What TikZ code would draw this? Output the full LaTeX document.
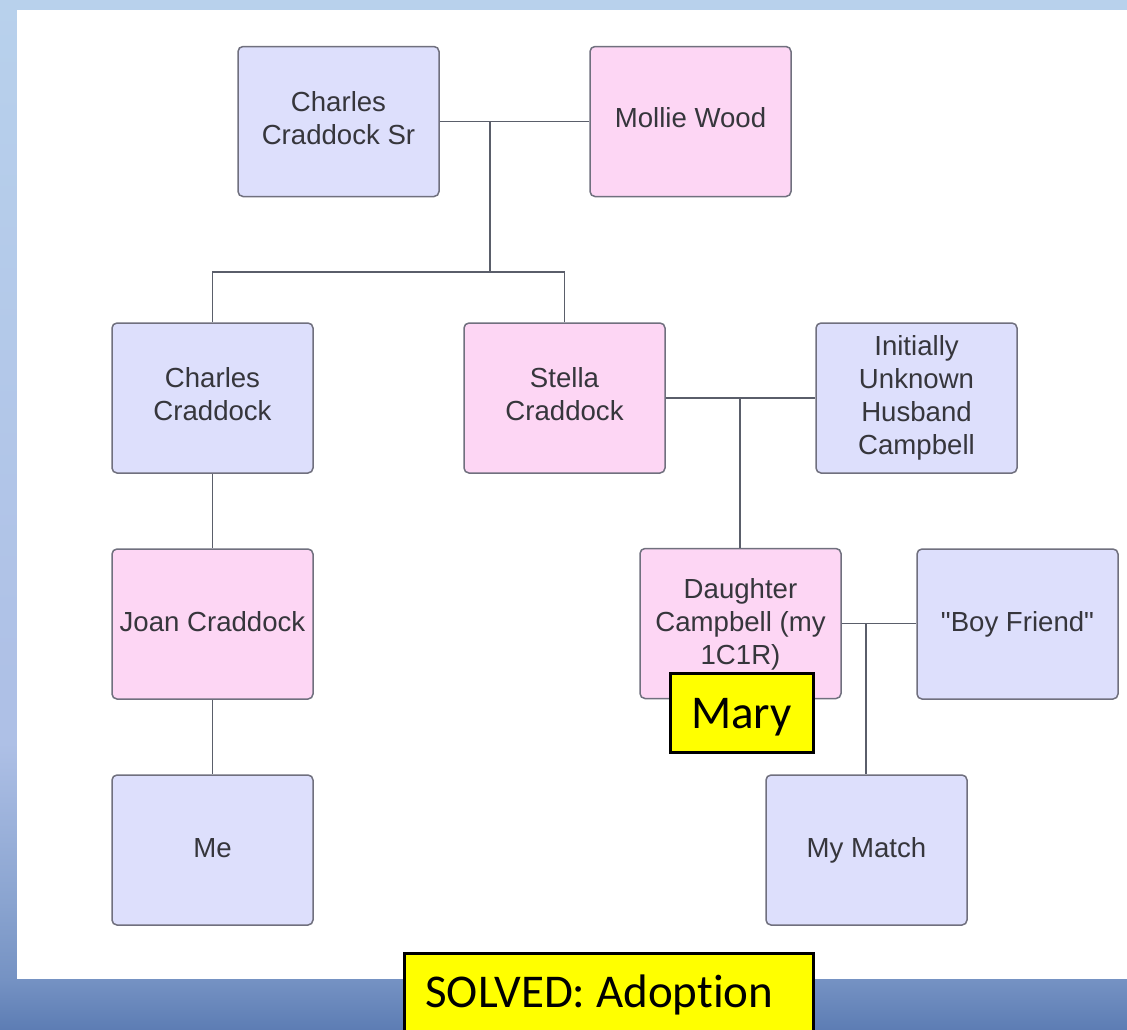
\documentclass[tikz,border=0pt]{standalone}
\usepackage{fontspec}
\setmainfont{Liberation Sans}[Ligatures=TeXOff]
\newfontfamily\calibrilike[Ligatures=NoCommon]{Carlito}
\usetikzlibrary{positioning}

\definecolor{bgtop}{HTML}{B8D1EC}
\definecolor{bgmid}{HTML}{AEC0E6}
\definecolor{bgdark}{HTML}{8AA4D0}
\definecolor{bgedge}{HTML}{7592C3}
\definecolor{bgbottom}{HTML}{5D7DB4}
\definecolor{malefill}{HTML}{DDDFFC}
\definecolor{femalefill}{HTML}{FDD6F4}
\definecolor{boxline}{HTML}{70707E}
\definecolor{linkline}{HTML}{5A5E6A}
\definecolor{labeltext}{HTML}{36363C}
\definecolor{notefill}{HTML}{FFFF00}

% slide background: pale blue fading to a deeper blue at the foot
\pgfdeclareverticalshading{slidebg}{100bp}{%
  color(0bp)=(bgbottom); color(25bp)=(bgbottom);
  color(27.4bp)=(bgedge); color(31.2bp)=(bgdark);
  color(38.9bp)=(bgmid); color(41bp)=(bgmid);
  color(75bp)=(bgtop); color(100bp)=(bgtop)}

\tikzset{
  person/.style={rectangle, rounded corners=2.5pt, draw=boxline,
    line width=0.75pt, minimum width=100.5pt, minimum height=75pt,
    inner sep=0pt, align=center, text=labeltext,
    font=\fontsize{13.8}{16.5}\selectfont},
  male/.style={person, fill=malefill},
  female/.style={person, fill=femalefill},
  link/.style={draw=linkline, line width=0.75pt},
  note/.style={rectangle, draw=black, line width=1.5pt, fill=notefill,
    inner sep=0pt},
  notetext/.style={inner sep=0pt, text=black,
    font=\calibrilike\fontsize{23.5}{28}\selectfont}
}

\begin{document}
\begin{tikzpicture}[x=0.5pt, y=-0.5pt]
  \useasboundingbox (0,0) rectangle (1127,1029);
  \shade[shading=slidebg] (0,0) rectangle (1127,1029);
  \fill[white] (17,10) rectangle (1127,979);

  % people (a short trailing line lifts the label a little)
  \node[male]   (sr)       at (338.5,121.5) {Charles\\Craddock Sr\\[-12.5pt]};
  \node[female] (mollie)   at (690.5,121.5) {Mollie Wood\\[-12.5pt]};
  \node[male]   (cc)       at (212.5,398)   {Charles\\Craddock\\[-12.5pt]};
  \node[female] (stella)   at (564.5,398)   {Stella\\Craddock\\[-12.5pt]};
  \node[male]   (husband)  at (916.5,398)   {Initially\\Unknown\\Husband\\Campbell};
  \node[female] (joan)     at (212.5,624)   {Joan Craddock\\[-13.5pt]};
  \node[female] (daughter) at (740.5,623.5) {Daughter\\Campbell (my\\1C1R)\\[-14.5pt]};
  \node[male]   (boy)      at (1017.5,624)  {"Boy Friend"};
  \node[male]   (me)       at (212.5,850)   {Me\\[-14.5pt]};
  \node[male]   (match)    at (866.5,850)   {My Match};

  % family links
  \coordinate (m1) at (490,121.5);
  \coordinate (m2) at (490,272);
  \coordinate (m3) at (740,398);
  \coordinate (m4) at (866,623.5);

  \draw[link] (sr.east) -- (mollie.west);
  \draw[link] (m1) -- (m2);
  \draw[link] (cc.north) |- (m2) -| (stella.north);
  \draw[link] (cc.south) -- (joan.north);
  \draw[link] (joan.south) -- (me.north);
  \draw[link] (stella.east) -- (husband.west);
  \draw[link] (m3) -- (m3 |- daughter.north);
  \draw[link] (daughter.east) -- (boy.west |- daughter.east);
  \draw[link] (m4) -- (m4 |- match.north);

  % highlighted notes
  \node[note, minimum width=71.5pt, minimum height=39.5pt] (marybox) at (741.5,712.5) {};
  \node[notetext, anchor=base] (mary) at (741.5,728) {Mary};
  \draw[note] (404,953) rectangle (813,1040);
  \node[notetext, anchor=base west] (solved) at (425,1007) {SOLVED: Adoption};
\end{tikzpicture}
\end{document}
